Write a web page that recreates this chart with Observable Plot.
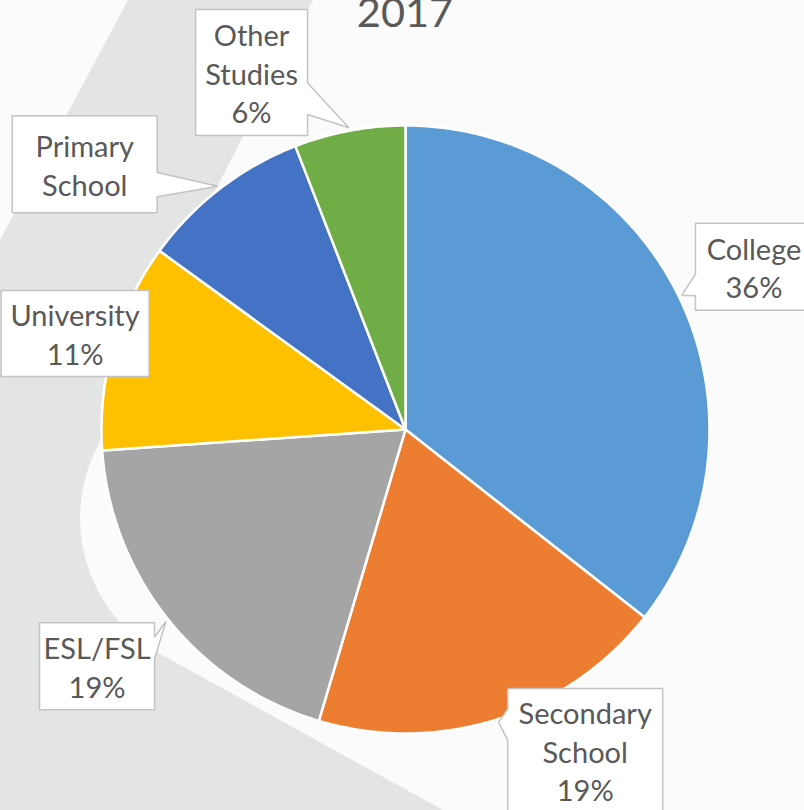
<!DOCTYPE html>
<html>
<head>
<meta charset="utf-8">
<script src="https://cdn.jsdelivr.net/npm/d3@7"></script>
<script src="https://cdn.jsdelivr.net/npm/@observablehq/plot@0.6"></script>
<style>
  html, body { margin: 0; padding: 0; background: #fbfbfb; overflow: hidden; }
  #wrap { position: relative; width: 804px; height: 810px; overflow: hidden; }
  #bg, #chart { position: absolute; left: 0; top: 0; }
  #title { position: absolute; left: 0; width: 810px; top: -9px; text-align: center;
           font-family: Lato, "Open Sans", sans-serif; font-size: 41.5px; line-height: 1; color: #595959; }
</style>
</head>
<body>
<div id="wrap">
  <svg id="bg" width="804" height="810"></svg>
  <div id="chart"></div>
  <div id="title">2017</div>
</div>
<script>
// ---- data ----
const categories = ["College", "Secondary School", "ESL/FSL", "University", "Primary School", "Other Studies"];
const shares = [35.6, 19.0, 19.3, 11.1, 9.1, 5.9];
const labelText = ["College\n36%", "Secondary\nSchool\n19%", "ESL/FSL\n19%", "University\n11%", "Primary\nSchool", "Other\nStudies\n6%"];

// ---- layout / style ----
const W = 804, H = 810, CX = 405, CY = 429, R = 304;
const palette = ["#5B9BD5", "#ED7D31", "#A5A5A5", "#FFC000", "#4472C4", "#70AD47"];
// label box placement: [angle nudge from slice middle (deg), distance in radii]
const labelPolar = [[0.9, 1.265], [-11.6, 1.210], [1.2, 1.279], [0.2, 1.132], [-12.8, 1.369], [-12.7, 1.279]];
const boxSize = [[117, 87], [155, 124], [115, 87], [148, 86], [145, 97], [112, 126]];
const fontSize = 29, linePx = 38.5, textColor = "#595959";

// ---- background decoration ----
const bg = d3.select("#bg");
bg.append("rect").attr("width", W).attr("height", H).attr("fill", "#fbfbfb");
bg.append("path").attr("fill", "#e3e4e4")
  .attr("d", "M0,240 L128,0 L313,0 L195,230 L150,440 L108.4,428 A157,157 0 0 0 147.8,647.2 L443,810 L0,810 Z");

// ---- pie geometry from the data ----
const rows = categories.map((c, i) => ({category: c, share: shares[i], label: labelText[i]}));
const arcs = d3.pie().sort(null).value(d => d.share)(rows);
const toXY = (a, r) => [r * Math.sin(a), r * Math.cos(a)];

const slicePts = [];
arcs.forEach(a => {
  const n = Math.max(2, Math.ceil((a.endAngle - a.startAngle) / (Math.PI / 360)));
  slicePts.push({category: a.data.category, x: 0, y: 0});
  for (let k = 0; k <= n; k++) {
    const t = a.startAngle + (a.endAngle - a.startAngle) * k / n;
    const [x, y] = toXY(t, 1);
    slicePts.push({category: a.data.category, x, y});
  }
  slicePts.push({category: a.data.category, x: 0, y: 0});
});

// ---- callout boxes (Excel wedgeRectCallout) ----
const callouts = [], texts = [];
arcs.forEach((a, i) => {
  const mid = (a.startAngle + a.endAngle) / 2;
  const [nd, rr] = labelPolar[i];
  const [cx, cy] = toXY(mid + nd * Math.PI / 180, rr);
  const w = boxSize[i][0] / R, h = boxSize[i][1] / R;
  const [tx, ty] = toXY(mid, 1.01);
  const cv = -cy, tv = -ty;               // screen-like (down) vertical coordinate
  const l = cx - w / 2, r = cx + w / 2, t = cv - h / 2, b = cv + h / 2;
  const dxPos = tx - cx, dyPos = tv - cv;
  let pts = [[l, t], [r, t], [r, b], [l, b]];
  const inside = Math.abs(dxPos) <= w / 2 && Math.abs(dyPos) <= h / 2;
  if (!inside) {
    const dz = Math.abs(dyPos) - Math.abs(dxPos * h / w);
    if (dz > 0) {
      const x1 = l + w * (dxPos > 0 ? 7 : 2) / 12, x2 = l + w * (dxPos > 0 ? 10 : 5) / 12;
      pts = dyPos < 0
        ? [[l, t], [x1, t], [tx, tv], [x2, t], [r, t], [r, b], [l, b]]
        : [[l, t], [r, t], [r, b], [x2, b], [tx, tv], [x1, b], [l, b]];
    } else {
      const y1 = t + h * (dyPos > 0 ? 7 : 2) / 12, y2 = t + h * (dyPos > 0 ? 10 : 5) / 12;
      pts = dxPos > 0
        ? [[l, t], [r, t], [r, y1], [tx, tv], [r, y2], [r, b], [l, b]]
        : [[l, t], [r, t], [r, b], [l, b], [l, y2], [tx, tv], [l, y1]];
    }
  }
  pts.push(pts[0]);
  pts.forEach(([u, v]) => callouts.push({id: i, x: u, y: -v}));
  texts.push({x: cx, y: cy, text: a.data.label});
});

const chart = Plot.plot({
  width: W, height: H, margin: 0,
  x: {domain: [-CX / R, (W - CX) / R], axis: null},
  y: {domain: [(CY - H) / R, CY / R], axis: null},
  color: {domain: categories, range: palette},
  style: {background: "transparent", overflow: "visible"},
  marks: [
    Plot.line(slicePts, {x: "x", y: "y", z: "category", fill: "category", stroke: "white", strokeWidth: 2.5, strokeLinejoin: "round"}),
    Plot.line(callouts, {x: "x", y: "y", z: "id", fill: "white", stroke: "#c3c3c3", strokeWidth: 1.5, strokeLinejoin: "miter"}),
    Plot.text(texts, {x: "x", y: "y", text: "text", fontSize, lineHeight: linePx / fontSize, fill: textColor,
                      fontFamily: "Lato, 'Open Sans', sans-serif"})
  ]
});
document.getElementById("chart").appendChild(chart);
</script>
</body>
</html>
